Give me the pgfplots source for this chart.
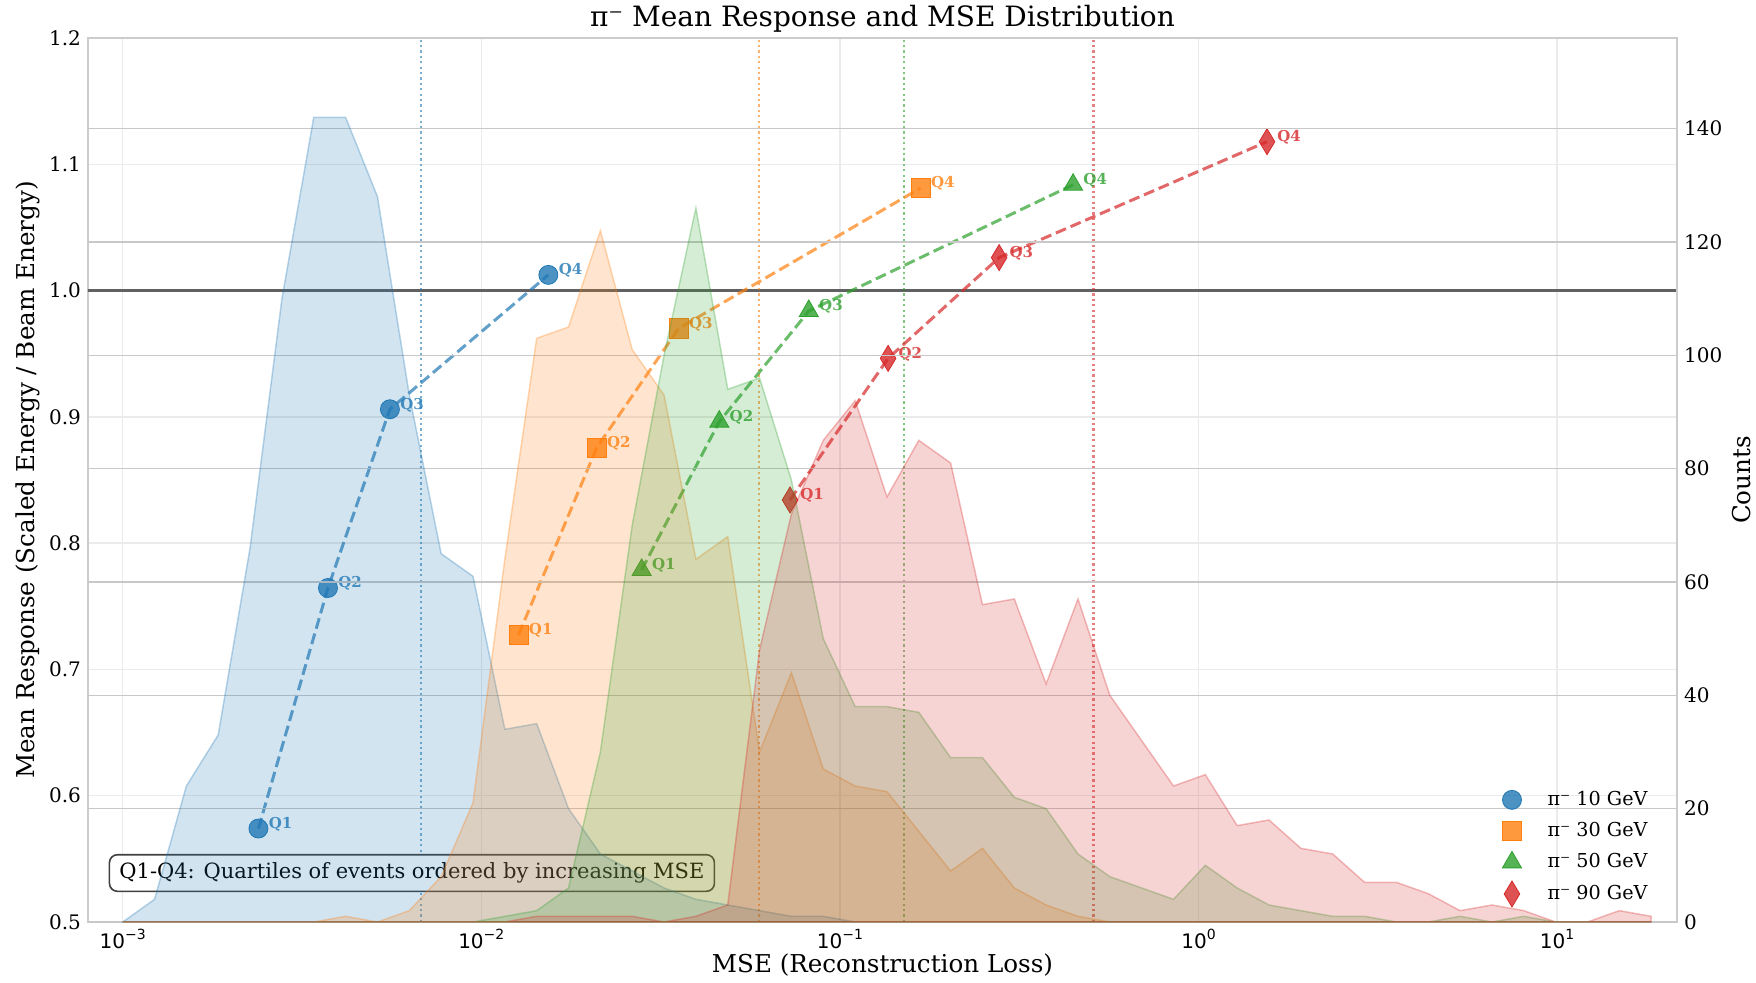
\documentclass[border=0pt]{standalone}
\usepackage{pgfplots}
\pgfplotsset{compat=1.18}
\usepackage{pgfplotstable}
\usepackage{fontspec}
\setmainfont{DejaVu Serif}
\newfontfamily\dvsans{DejaVu Sans}

\definecolor{cB}{HTML}{1F77B4}
\definecolor{cO}{HTML}{FF7F0E}
\definecolor{cG}{HTML}{2CA02C}
\definecolor{cR}{HTML}{D62728}
\definecolor{gridlt}{HTML}{EBEBEB}
\definecolor{griddk}{HTML}{C8C8C8}
\definecolor{spine}{HTML}{CCCCCC}

\newcommand{\dex}[1]{{\dvsans\fontsize{10}{12}\selectfont 10\raisebox{0.8ex}{\fontsize{7}{7}\selectfont #1}}}

% MSE histograms (counts per log-spaced bin)
\pgfplotstableread{
x        b    o    g    r
0.001000 0    0    0    0
0.001227 4    0    0    0
0.001505 24   0    0    0
0.001846 33   0    0    0
0.002265 66   0    0    0
0.002780 110  0    0    0
0.003410 142  0    0    0
0.004183 142  1    0    0
0.005133 128  0    0    0
0.006297 93   2    0    0
0.007727 65   8    0    0
0.009480 61   21   0    0
0.01163  34   64   1    0
0.01427  35   103  2    1
0.01751  20   105  6    1
0.02148  12   122  30   1
0.02635  9    101  70   1
0.03233  6    93   100  0
0.03967  4    64   126  1
0.04867  3    68   94   3
0.05970  2    30   96   48
0.07325  1    44   78   72
0.08987  1    27   50   85
0.1103   0    24   38   92
0.1353   0    23   38   75
0.1660   0    16   37   85
0.2036   0    9    29   81
0.2498   0    13   29   56
0.3065   0    6    22   57
0.3760   0    3    20   42
0.4613   0    1    12   57
0.5660   0    0    8    40
0.6944   0    0    6    32
0.8519   0    0    4    24
1.045    0    0    10   26
1.282    0    0    6    17
1.573    0    0    3    18
1.930    0    0    2    13
2.368    0    0    1    12
2.905    0    0    1    7
3.565    0    0    0    7
4.373    0    0    0    5
5.366    0    0    1    2
6.583    0    0    0    3
8.076    0    0    1    2
9.908    0    0    0    0
12.16    0    0    0    0
14.92    0    0    0    2
18.30    0    0    0    1
}\hist

% Mean response per MSE quartile
\pgfplotstableread{
x        y       q
0.00239  0.574   Q1
0.003736 0.7645  Q2
0.00556  0.906   Q3
0.01538  1.0124  Q4
}\qB
\pgfplotstableread{
x        y       q
0.0127   0.7273  Q1
0.02098  0.8756  Q2
0.0355   0.970   Q3
0.168    1.0812  Q4
}\qO
\pgfplotstableread{
x        y       q
0.0280   0.7788  Q1
0.0461   0.8962  Q2
0.0819   0.9838  Q3
0.447    1.0838  Q4
}\qG
\pgfplotstableread{
x        y       q
0.0726   0.8342  Q1
0.1363   0.9463  Q2
0.278    1.0261  Q3
1.553    1.1179  Q4
}\qR

\pgfplotsset{
  qlabel/.style={nodes near coords, point meta=explicit symbolic,
    nodes near coords style={anchor=west, inner sep=0pt, xshift=5pt, yshift=2.2pt,
      font=\bfseries\fontsize{7.5}{8}\selectfont, text=#1}},
  qline/.style={#1, line width=1.5pt, draw opacity=0.7, dash pattern=on 5.5pt off 2.5pt, no marks},
  medline/.style={#1, line width=1.1pt, draw opacity=0.6, dash pattern=on 1.1pt off 1.6pt, no marks, forget plot},
  hfill/.style={forget plot, draw=#1, draw opacity=0.3, fill=#1, fill opacity=0.2, line width=0.75pt},
}

\begin{document}
\begin{tikzpicture}
\path[use as bounding box] (-44pt,-30.5pt) rectangle (834pt,461pt);
\begin{axis}[
  at={(0,0)}, anchor=south west, scale only axis,
  width=794.5pt, height=442pt,
  xmode=log, xmin=8.0e-4, xmax=21.6, ymin=0.5, ymax=1.2,
  xtick={0.001,0.01,0.1,1,10},
  xticklabels={\dex{−3},\dex{−2},\dex{−1},\dex{0},\dex{1}},
  ytick={0.5,0.6,0.7,0.8,0.9,1.0,1.1,1.2},
  xtick pos=lower, ytick pos=left,
  major tick length=0pt, minor tick length=0pt,
  xmajorgrids, ymajorgrids,
  grid style={color=gridlt, line width=0.75pt},
  axis line style={spine, line width=0.9pt},
  yticklabel style={font=\fontsize{10}{12}\selectfont,
    /pgf/number format/fixed, /pgf/number format/fixed zerofill,
    /pgf/number format/precision=1, /pgf/number format/assume math mode=true},
  xlabel={MSE (Reconstruction Loss)},
  xlabel style={font=\fontsize{12.3}{14}\selectfont, at={(axis description cs:0.5,-0.0492)}, anchor=center},
  ylabel={Mean Response (Scaled Energy / Beam Energy)},
  ylabel style={font=\fontsize{12.3}{14}\selectfont, at={(axis description cs:-0.0378,0.5)}, anchor=center},
  clip=true,
]
% reference line at unit response
\addplot[black!62, line width=1.5pt, no marks, forget plot] coordinates {(5e-4,1) (40,1)};
% median MSE of each beam energy
\addplot[medline=cB] coordinates {(0.00678,0.5) (0.00678,1.2)};
\addplot[medline=cO] coordinates {(0.0596,0.5) (0.0596,1.2)};
\addplot[medline=cG] coordinates {(0.1509,0.5) (0.1509,1.2)};
\addplot[medline=cR] coordinates {(0.5096,0.5) (0.5096,1.2)};
% quartile markers
\addplot[only marks, mark=*, mark size=4.75pt, mark options={fill=cB, draw=cB, fill opacity=0.8}, qlabel=cB, forget plot] table[x=x, y=y, meta=q]{\qB};
\addplot[only marks, mark=square*, mark size=4.8pt, mark options={fill=cO, draw=cO, fill opacity=0.8}, qlabel=cO, forget plot] table[x=x, y=y, meta=q]{\qO};
\addplot[only marks, mark=triangle*, mark size=5.5pt, mark options={fill=cG, draw=cG, fill opacity=0.8}, qlabel=cG, forget plot] table[x=x, y=y, meta=q]{\qG};
\addplot[only marks, mark=diamond*, mark size=6.5pt, mark options={xscale=0.8, fill=cR, draw=cR, fill opacity=0.8}, qlabel=cR, forget plot] table[x=x, y=y, meta=q]{\qR};
% quartile trends
\addplot[qline=cB, forget plot] table[x=x, y=y]{\qB};
\addplot[qline=cO, forget plot] table[x=x, y=y]{\qO};
\addplot[qline=cG, forget plot] table[x=x, y=y]{\qG};
\addplot[qline=cR, forget plot] table[x=x, y=y]{\qR};
\node[draw=black!75, rounded corners=4pt, fill=white, line width=0.8pt,
      anchor=west, inner xsep=5pt, inner ysep=4pt, font=\fontsize{10.5}{12}\selectfont]
  at (rel axis cs:0.013,0.0554) {Q1-Q4: Quartiles of events ordered by increasing MSE};
\end{axis}

\begin{axis}[
  at={(0,0)}, anchor=south west, scale only axis,
  width=794.5pt, height=442pt,
  xmode=log, xmin=8.0e-4, xmax=21.6, ymin=0, ymax=156,
  hide x axis,
  axis y line*=right,
  ytick={0,20,40,60,80,100,120,140},
  major tick length=0pt, minor tick length=0pt,
  ymajorgrids, grid style={color=griddk, line width=0.75pt},
  axis line style={spine, line width=0.9pt},
  yticklabel style={font=\fontsize{10}{12}\selectfont, /pgf/number format/assume math mode=true},
  ylabel={Counts},
  ylabel style={font=\fontsize{12.3}{14}\selectfont, at={(axis description cs:1.0406,0.5)}, anchor=center, rotate=0},
  legend style={draw=none, fill=none, at={(rel axis cs:0.988,0.012)}, anchor=south east,
    font=\fontsize{9.6}{11}\selectfont, row sep=3pt,
    /tikz/every odd column/.append style={column sep=11pt}},
  legend cell align=left,
  clip=false,
]
\addplot[hfill=cB] table[x=x, y=b]{\hist} \closedcycle;
\addplot[hfill=cO] table[x=x, y=o]{\hist} \closedcycle;
\addplot[hfill=cG] table[x=x, y=g]{\hist} \closedcycle;
\addplot[hfill=cR] table[x=x, y=r]{\hist} \closedcycle;
\addlegendimage{only marks, mark=*, mark size=4.75pt, mark options={fill=cB, draw=cB, fill opacity=0.8}}
\addlegendentry{π⁻ 10 GeV}
\addlegendimage{only marks, mark=square*, mark size=4.8pt, mark options={fill=cO, draw=cO, fill opacity=0.8}}
\addlegendentry{π⁻ 30 GeV}
\addlegendimage{only marks, mark=triangle*, mark size=5.5pt, mark options={fill=cG, draw=cG, fill opacity=0.8}}
\addlegendentry{π⁻ 50 GeV}
\addlegendimage{only marks, mark=diamond*, mark size=6.5pt, mark options={xscale=0.8, fill=cR, draw=cR, fill opacity=0.8}}
\addlegendentry{π⁻ 90 GeV}
% chart title
\node[anchor=center, font=\fontsize{14}{16}\selectfont] at (rel axis cs:0.5,1.0215) {π⁻ Mean Response and MSE Distribution};
\end{axis}
\end{tikzpicture}
\end{document}
